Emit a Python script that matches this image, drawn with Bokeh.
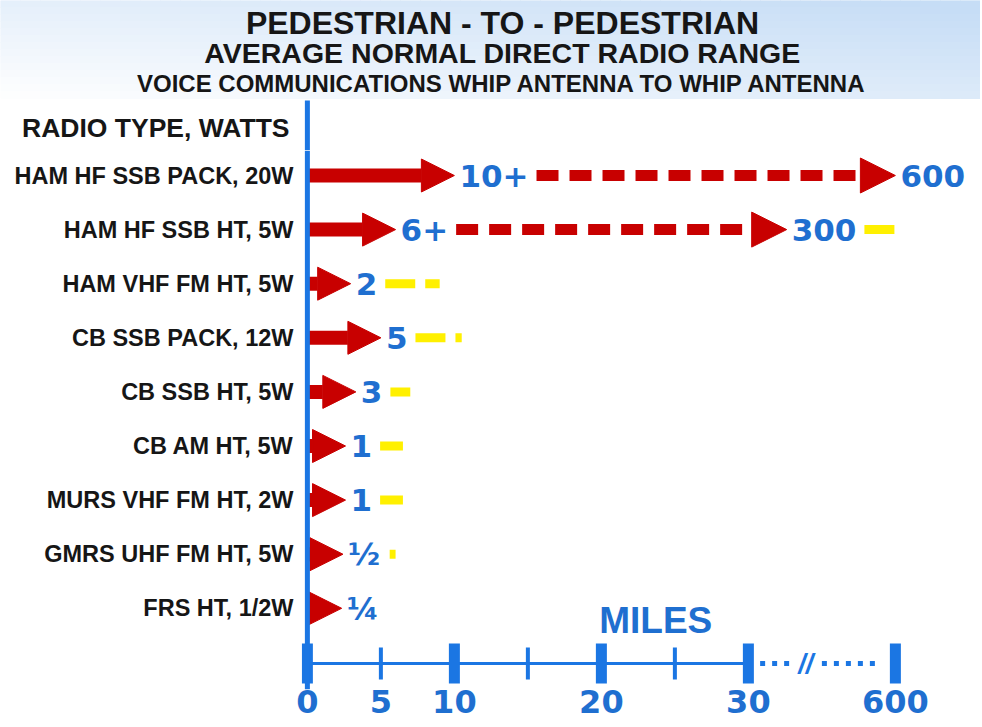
import numpy as np
from bokeh.plotting import figure
from bokeh.models import ColumnDataSource, Range1d, FixedTicker, Arrow, NormalHead, Span, Label
from bokeh.layouts import column
from bokeh.core.properties import value
from bokeh.embed import file_html
from bokeh.resources import INLINE

# ---------------- chart data ----------------
title_lines = [
    "PEDESTRIAN - TO - PEDESTRIAN",
    "AVERAGE NORMAL DIRECT RADIO RANGE",
    "VOICE COMMUNICATIONS WHIP ANTENNA TO WHIP ANTENNA",
]
category_header = "RADIO TYPE, WATTS"
radio_types = [
    "HAM HF SSB PACK, 20W",
    "HAM HF SSB HT, 5W",
    "HAM VHF FM HT, 5W",
    "CB SSB PACK, 12W",
    "CB SSB HT, 5W",
    "CB AM HT, 5W",
    "MURS VHF FM HT, 2W",
    "GMRS UHF FM HT, 5W",
    "FRS HT, 1/2W",
]
range_miles = [10, 6, 2, 5, 3, 1, 1, 0.5, 0.25]
range_labels = ["10+", "6+", "2", "5", "3", "1", "1", "\u00bd", "\u00bc"]
long_range_miles = [600, 300, None, None, None, None, None, None, None]
long_range_labels = ["600", "300", "", "", "", "", "", "", ""]
upper_range_miles = [None, 600, 9, 10.5, 7, 6.5, 6.5, 6, None]
axis_tick_miles = [0, 5, 10, 20, 30, 600]
axis_tick_labels = ["0", "5", "10", "20", "30", "600"]
major_mark_miles = [0, 10, 20, 30, 600]
minor_mark_miles = [5, 15, 25]
axis_title = "MILES"
break_miles = 30
max_miles = 600

# ---------------- styling / layout constants ----------------
FONT = value("Liberation Sans")
NUM_FONT = "DejaVu Sans"
BLUE_LINE = "#1b76e3"
BLUE_TEXT = "#1f6fd0"
RED = "#c80000"
YELLOW = "#fff000"
DARK = "#161616"

W = 980
TOTAL_H = 726
HEAD_H = 150
MAIN_H = TOTAL_H - HEAD_H
LEFT = 301
PX = 14.7            # pixels per mile on the linear part
X0 = -0.4
X1 = X0 + (W - LEFT) / PX
ROW_PX = 54.1
FIRST_ROW_PX = 25
BOTTOM_BORDER = 37
frame_h = MAIN_H - BOTTOM_BORDER
Y_TOP = 1 - FIRST_ROW_PX / ROW_PX
Y_BOTTOM = Y_TOP + frame_h / ROW_PX
GAP_UNITS = 10       # room given to the broken 30..600 stretch
VALUE_FONT = 31
HEAD_PX = 33
LABEL_DX = 5


def to_axis(miles):
    """Broken axis: linear up to 30 miles, compressed stretch 30..600."""
    m = np.array([np.nan if v is None else v for v in np.atleast_1d(miles)], dtype=float)
    frac = np.clip((m - break_miles) / (max_miles - break_miles), 0, None)
    with np.errstate(invalid="ignore"):
        return np.where(m <= break_miles, m, break_miles + GAP_UNITS * frac ** 1.8)


CHAR_EM = {"+": 0.838, "\u00bd": 1.088, "\u00bc": 1.088}


def text_px(s, size=VALUE_FONT):
    return sum(CHAR_EM.get(c, 0.696) for c in s) * size


def ypos(image_y):
    return Y_TOP + (image_y - HEAD_H) / ROW_PX


n = len(radio_types)
rows = np.arange(1, n + 1, dtype=float)
vals = np.array(range_miles, dtype=float)
head_mi = HEAD_PX / PX
tips = np.maximum(vals, head_mi + 0.35 * vals)   # short ranges still show a whole arrow head

# ---------------- header figure ----------------
hdr = figure(width=W, height=HEAD_H, x_range=Range1d(0, W), y_range=Range1d(HEAD_H, 0),
             x_axis_location=None, y_axis_location=None, toolbar_location=None,
             output_backend="svg", min_border=0, outline_line_color=None)
hdr.xgrid.visible = False
hdr.ygrid.visible = False

GRAD_H = 98
nx, ny = 49, 14
gx = np.linspace(0, W, nx + 1)
gy = np.linspace(0, GRAD_H, ny + 1)
ql, qr, qt, qb, qc = [], [], [], [], []
c0 = np.array([255, 255, 255])
c1 = np.array([198, 221, 246])
for j in range(ny):
    for i in range(nx):
        xc = (gx[i] + gx[i + 1]) / 2 / W
        yc = (gy[j] + gy[j + 1]) / 2 / GRAD_H
        t = min(1.0, 0.6 * xc + 0.45 * (1 - yc))
        c = (c0 + (c1 - c0) * t).astype(int)
        ql.append(gx[i]); qr.append(gx[i + 1]); qt.append(gy[j]); qb.append(gy[j + 1])
        qc.append("#%02x%02x%02x" % tuple(c))
hdr.quad(left=ql, right=qr, top=qt, bottom=qb, fill_color=qc, line_color=qc, line_width=1)

title_y = [22, 52, 83]
title_sizes = ["32px", "28.5px", "24px"]
for txt, ty, ts in zip(title_lines, title_y, title_sizes):
    hdr.text(x=[502], y=[ty], text=[txt], text_align="center", text_baseline="middle",
             text_font=FONT, text_font_style="bold", text_font_size=ts, text_color=DARK)

axis_x_hdr = LEFT + (0 - X0) * PX
hdr.text(x=[289], y=[127], text=[category_header], text_align="right",
         text_baseline="middle", text_font=FONT, text_font_style="bold",
         text_font_size="26.5px", text_color=DARK)
hdr.segment(x0=[axis_x_hdr], y0=[GRAD_H + 2], x1=[axis_x_hdr], y1=[HEAD_H],
            line_color=BLUE_LINE, line_width=5)

# ---------------- main figure ----------------
p = figure(width=W, height=MAIN_H, x_range=Range1d(X0, X1), y_range=Range1d(Y_BOTTOM, Y_TOP),
           toolbar_location=None, output_backend="svg", min_border_left=LEFT,
           min_border_right=0, min_border_top=0, min_border_bottom=BOTTOM_BORDER,
           outline_line_color=None)
p.grid.visible = False

for fig in (hdr, p):
    if "frame_align" in fig.properties():
        fig.frame_align = False

# left axis: radio types
p.yaxis.ticker = FixedTicker(ticks=list(rows))
p.yaxis.major_label_overrides = {int(r): name for r, name in zip(rows, radio_types)}
p.yaxis.axis_line_color = None
p.yaxis.major_tick_line_color = None
p.yaxis.minor_tick_line_color = None
p.yaxis.major_tick_out = 0
p.yaxis.major_label_standoff = 8
p.yaxis.major_label_text_font = "Liberation Sans"
p.yaxis.major_label_text_font_style = "bold"
p.yaxis.major_label_text_font_size = "23.5px"
p.yaxis.major_label_text_color = DARK

# bottom axis: miles (broken)
tick_pos = to_axis(axis_tick_miles)
p.xaxis.ticker = FixedTicker(ticks=[float(t) for t in tick_pos])
p.xaxis.major_label_overrides = {(int(t) if float(t).is_integer() else float(t)): lab
                                 for t, lab in zip(tick_pos, axis_tick_labels)}
p.xaxis.axis_line_color = None
p.xaxis.major_tick_line_color = None
p.xaxis.minor_tick_line_color = None
p.xaxis.major_tick_out = 0
p.xaxis.major_label_standoff = 0
p.xaxis.major_label_text_font = NUM_FONT
p.xaxis.major_label_text_font_style = "bold"
p.xaxis.major_label_text_font_size = "32px"
p.xaxis.major_label_text_color = BLUE_TEXT

# main arrows
main_src = ColumnDataSource(dict(x0=np.zeros(n), x1=tips, y=rows, lab=range_labels))
p.add_layout(Arrow(x_start="x0", y_start="y", x_end="x1", y_end="y", source=main_src,
                   line_color=RED, line_width=14,
                   end=NormalHead(size=HEAD_PX, fill_color=RED, line_color=RED, line_width=1)))
p.text(x="x1", y="y", text="lab", source=main_src, x_offset=LABEL_DX, text_align="left",
       text_baseline="middle", text_font=value(NUM_FONT), text_font_style="bold",
       text_font_size=f"{VALUE_FONT}px", text_color=BLUE_TEXT)

# dashed long-range arrows
li = [i for i, v in enumerate(long_range_miles) if v is not None]
long_start = [tips[i] + (LABEL_DX + text_px(range_labels[i]) + 8) / PX for i in li]
long_end = [float(to_axis(long_range_miles[i])[0]) for i in li]
long_src = ColumnDataSource(dict(x0=long_start, x1=long_end, y=rows[li],
                                 lab=[long_range_labels[i] for i in li]))
p.add_layout(Arrow(x_start="x0", y_start="y", x_end="x1", y_end="y", source=long_src,
                   line_color=RED, line_width=11, line_dash="22 11",
                   end=NormalHead(size=35, fill_color=RED, line_color=RED, line_width=1)))
p.text(x="x1", y="y", text="lab", source=long_src, x_offset=LABEL_DX, text_align="left",
       text_baseline="middle", text_font=value(NUM_FONT), text_font_style="bold",
       text_font_size=f"{VALUE_FONT}px", text_color=BLUE_TEXT)

# yellow "possible" extensions
yi = [i for i, v in enumerate(upper_range_miles) if v is not None]
y_start, y_end = [], []
for i in yi:
    if long_range_miles[i] is not None:
        anchor = float(to_axis(long_range_miles[i])[0]); lab = long_range_labels[i]
    else:
        anchor = tips[i]; lab = range_labels[i]
    y_start.append(anchor + (LABEL_DX + text_px(lab) + 8) / PX)
    y_end.append(float(to_axis(upper_range_miles[i])[0]))
p.segment(x0=y_start, y0=rows[yi], x1=y_end, y1=rows[yi], line_color=YELLOW,
          line_width=9, line_dash="30 10")

# vertical axis line
p.add_layout(Span(location=0, dimension="height", line_color=BLUE_LINE, line_width=5))

# ruler
RULER_Y = ypos(663)
p.segment(x0=[axis_tick_miles[0]], y0=[RULER_Y], x1=[break_miles], y1=[RULER_Y],
          line_color=BLUE_LINE, line_width=3)
gap_l, gap_r = break_miles, float(to_axis(max_miles)[0])
span = gap_r - gap_l
p.segment(x0=[gap_l + 0.08 * span, gap_l + 0.5 * span], y0=[RULER_Y, RULER_Y],
          x1=[gap_l + 0.3 * span, gap_l + 0.9 * span], y1=[RULER_Y, RULER_Y],
          line_color=BLUE_LINE, line_width=5, line_dash="5 7")
p.text(x=[gap_l + 0.39 * span], y=[RULER_Y], text=["//"], text_align="center",
       text_baseline="middle", text_font=FONT, text_font_style="bold italic",
       text_font_size="27px", text_color=BLUE_LINE)
p.rect(x=to_axis(major_mark_miles), y=RULER_Y, width=11, height=40,
       width_units="screen", height_units="screen", fill_color=BLUE_LINE, line_color=None)
p.rect(x=to_axis(minor_mark_miles), y=RULER_Y, width=4, height=32,
       width_units="screen", height_units="screen", fill_color=BLUE_LINE, line_color=None)

p.add_layout(Label(x=23.7, y=ypos(620), text=axis_title,
                   text_align="center", text_baseline="middle", text_font="Liberation Sans",
                   text_font_style="bold", text_font_size="37px", text_color=BLUE_TEXT))

layout = column(hdr, p)
open("out.html", "w").write(file_html(layout, INLINE))
